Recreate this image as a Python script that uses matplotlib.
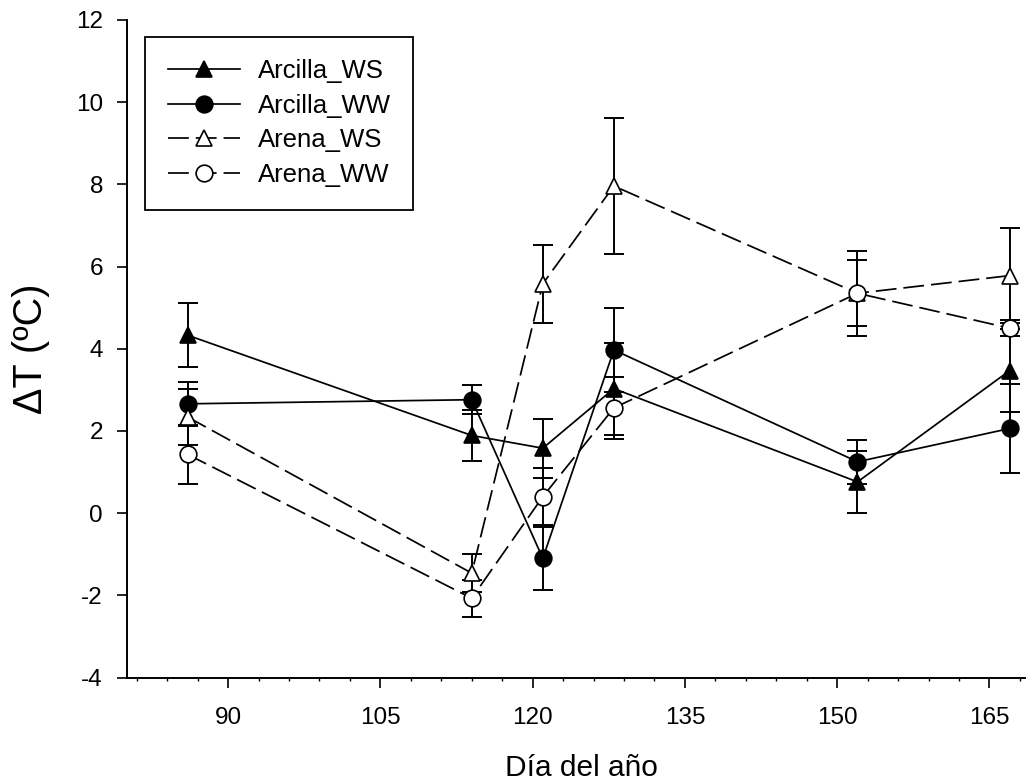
import matplotlib
matplotlib.use("Agg")
import matplotlib.pyplot as plt
from matplotlib.ticker import MultipleLocator

plt.rcParams['font.family'] = ['Liberation Sans', 'DejaVu Sans']
plt.rcParams['lines.scale_dashes'] = False
plt.rcParams['axes.unicode_minus'] = False

# Data
days = [86, 114, 121, 128, 152, 167]
arcilla_ws = [4.33, 1.89, 1.58, 3.03, 0.76, 3.47]
arcilla_ws_err = [0.78, 0.63, 0.72, 1.12, 0.76, 1.01]
arcilla_ww = [2.66, 2.76, -1.10, 3.97, 1.25, 2.06]
arcilla_ww_err = [0.54, 0.35, 0.77, 1.03, 0.54, 1.08]
arena_ws = [2.34, -1.46, 5.58, 7.96, 5.35, 5.78]
arena_ws_err = [0.67, 0.46, 0.95, 1.65, 1.03, 1.16]
arena_ww = [1.43, -2.07, 0.40, 2.56, 5.35, 4.50]
arena_ww_err = [0.71, 0.45, 0.70, 0.75, 0.80, 0.20]

series = [
    ("Arcilla_WS", arcilla_ws, arcilla_ws_err, '^', 'black', '-'),
    ("Arcilla_WW", arcilla_ww, arcilla_ww_err, 'o', 'black', '-'),
    ("Arena_WS", arena_ws, arena_ws_err, '^', 'white', '--'),
    ("Arena_WW", arena_ww, arena_ww_err, 'o', 'white', '--'),
]

fig = plt.figure(figsize=(10.26, 7.83), dpi=100)
ax = fig.add_axes([0.1234, 0.1347, 0.8766, 0.8398])

handles = []
for i, (name, vals, errs, mk, fc, ls) in enumerate(series):
    ax.errorbar(days, vals, yerr=errs, fmt='none', ecolor='black',
                elinewidth=1.4, capsize=7.2, capthick=1.4, zorder=2 + i * 0.1)
    kw = dict(dashes=(15, 5)) if ls == '--' else {}
    ln, = ax.plot(days, vals, linestyle=ls, color='black', linewidth=1.25,
                  marker=mk, markersize=12, markerfacecolor=fc,
                  markeredgecolor='black', markeredgewidth=1.2,
                  label=name, zorder=3 + i * 0.1, **kw)
    handles.append(ln)

ax.set_xlim(80, 168.6)
ax.set_ylim(-4, 12)
ax.xaxis.set_major_locator(MultipleLocator(15))
ax.xaxis.set_minor_locator(MultipleLocator(3))
ax.yaxis.set_major_locator(MultipleLocator(2))

for s in ['top', 'right']:
    ax.spines[s].set_visible(False)
for s in ['left', 'bottom']:
    ax.spines[s].set_linewidth(1.4)

ax.tick_params(axis='x', which='major', direction='out', length=7, width=1.2,
               labelsize=17.5, pad=14)
ax.tick_params(axis='x', which='minor', direction='out', length=2.5, width=1.0)
ax.tick_params(axis='y', which='major', direction='out', length=7, width=1.2,
               labelsize=17.5, pad=10)

ax.set_xlabel("Día del año", fontsize=21.5)
ax.set_ylabel("ΔT (ºC)", fontsize=28.5)
ax.xaxis.set_label_coords(0.506, -0.117)
ax.yaxis.set_label_coords(-0.0852, 0.5)

leg = ax.legend(handles=handles, loc='upper left',
                bbox_to_anchor=(0.1413, 0.9531), bbox_transform=fig.transFigure,
                borderaxespad=0, fontsize=18.5, frameon=True, fancybox=False,
                edgecolor='black', framealpha=1, numpoints=1,
                handlelength=2.8, handletextpad=0.7, labelspacing=0.41,
                borderpad=0.88)
leg.get_frame().set_linewidth(1.3)

fig.savefig("out.png", dpi=100)
